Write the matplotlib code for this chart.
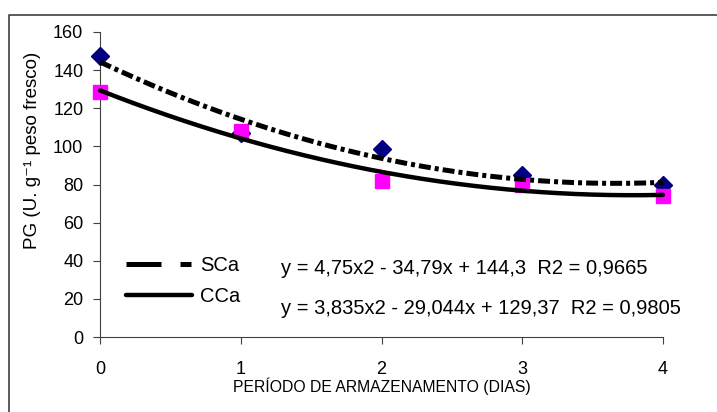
import matplotlib
matplotlib.use("Agg")
import matplotlib.pyplot as plt
from matplotlib.lines import Line2D
import numpy as np

plt.rcParams['font.family'] = ['Liberation Sans', 'DejaVu Sans']
plt.rcParams['lines.scale_dashes'] = False

# Storage period (days)
dias = [0, 1, 2, 3, 4]
# PG activity, without calcium (SCa) and with calcium (CCa)
sca = [147.5, 107, 98.5, 85, 80]
cca = [128.5, 108, 82, 80, 74]

# Quadratic trend coefficients (a, b, c) for y = a x^2 + b x + c
coef_sca = (4.75, -34.79, 144.3)
coef_cca = (3.835, -29.044, 129.37)
eq_sca = "y = 4,75x2 - 34,79x + 144,3  R2 = 0,9665"
eq_cca = "y = 3,835x2 - 29,044x + 129,37  R2 = 0,9805"

yticks = [0, 20, 40, 60, 80, 100, 120, 140, 160]
xticks = [0, 1, 2, 3, 4]

W, H = 717, 412
fig = plt.figure(figsize=(W / 100, H / 100), dpi=100)
ax = fig.add_axes([100 / W, (H - 337) / H, (663 - 100) / W, (337 - 32) / H])

fs_tick = 13
fs_lab = 11.3
fs_txt = 14.5

ax.plot(dias, sca, linestyle='none', marker='D', markersize=9.5,
        color='#000080', clip_on=False, zorder=3)
ax.plot(dias, cca, linestyle='none', marker='s', markersize=10.5,
        color='#FF00FF', clip_on=False, zorder=4)

xs = np.linspace(0, 4, 200)
fit_sca = np.polyval(coef_sca, xs)
fit_cca = np.polyval(coef_cca, xs)
ax.plot(xs, fit_sca, color='black', lw=3.6, dashes=(8.6, 2.9, 2.9, 2.9),
        dash_capstyle='butt', clip_on=False, zorder=5)
ax.plot(xs, fit_cca, color='black', lw=3.2, solid_capstyle='round',
        clip_on=False, zorder=5)

ax.set_xlim(0, 4)
ax.set_ylim(0, 160)
ax.set_xticks(xticks)
ax.set_yticks(yticks)
ax.tick_params(axis='both', direction='out', length=5, width=0.8,
               color='#404040', labelsize=fs_tick)
ax.tick_params(axis='x', pad=12)
ax.tick_params(axis='y', pad=7)
for s in ('top', 'right'):
    ax.spines[s].set_visible(False)
for s in ('left', 'bottom'):
    ax.spines[s].set_color('#404040')
    ax.spines[s].set_linewidth(0.8)

ax.set_xlabel("PERÍODO DE ARMAZENAMENTO (DIAS)", fontsize=fs_lab)
ax.xaxis.set_label_coords(0.5, -0.133)
ax.set_ylabel("PG (U. g\u207b\u00b9 peso fresco)", fontsize=13.5)
ax.yaxis.set_label_coords(-0.105, 0.613)

h1 = Line2D([], [], color='black', lw=3.6, dashes=(25.2, 13.7, 7.9, 13.7),
            dash_capstyle='butt')
h2 = Line2D([], [], color='black', lw=3.2, solid_capstyle='round')
ax.legend([h1, h2], ["SCa", "CCa"], loc='upper left', frameon=False,
          bbox_to_anchor=(0.028, 0.297), fontsize=fs_txt, handlelength=3.3,
          handletextpad=0.4, labelspacing=0.55, borderpad=0)

ax.text(281 / W, (H - 268) / H, eq_sca, transform=fig.transFigure,
        fontsize=fs_txt, va='center', ha='left')
ax.text(281 / W, (H - 308) / H, eq_cca, transform=fig.transFigure,
        fontsize=fs_txt, va='center', ha='left')

# outer frame (left and top edges)
fig.add_artist(Line2D([9 / W, 9 / W, 1.0], [0, (H - 15) / H, (H - 15) / H],
                      transform=fig.transFigure, color='#404040', lw=1.2))

fig.savefig("out.png", dpi=100)
